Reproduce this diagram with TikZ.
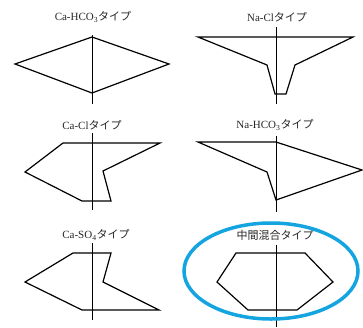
\documentclass[tikz,border=0pt]{standalone}
\usepackage{fontspec}
\setmainfont{Liberation Serif}
\newfontfamily\jp{Noto Sans CJK JP}
\definecolor{ringblue}{RGB}{20,165,225}
\begin{document}
\begin{tikzpicture}[x=1pt,y=-1pt,
  axisline/.style={line width=1pt,black},
  shapeline/.style={line width=1.2pt,black,line join=miter},
  lbl/.style={font=\fontsize{11}{12}\selectfont,inner sep=0pt,text=black!85}]
\useasboundingbox (0,0) rectangle (363,327);
% Panel 1: Ca-HCO3
\node[lbl] (l1) at (93,17) {Ca-HCO\textsubscript{3}{\jp タイプ}};
\draw[axisline] (92,35) -- (92,104);
\draw[shapeline] (92,37) -- (169,64) -- (92,93) -- (15,64) -- cycle;
% Panel 2: Na-Cl
\node[lbl] (l2) at (277,17) {Na-Cl{\jp タイプ}};
\draw[axisline] (276,27) -- (276,104);
\draw[shapeline] (198,37) -- (353,37) -- (295,65) -- (286,94) -- (275,94) -- (267,65) -- cycle;
% Panel 3: Ca-Cl
\node[lbl] (l3) at (92,125) {Ca-Cl{\jp タイプ}};
\draw[axisline] (92,133) -- (92,210);
\draw[shapeline] (63,143) -- (160,143) -- (103,171) -- (111,201) -- (82,201) -- (25,172) -- cycle;
% Panel 4: Na-HCO3
\node[lbl] (l4) at (275,125) {Na-HCO\textsubscript{3}{\jp タイプ}};
\draw[axisline] (276,136) -- (276,212);
\draw[shapeline] (198,142) -- (276,142) -- (362,170) -- (276,200) -- (267,172) -- cycle;
% Panel 5: Ca-SO4
\node[lbl] (l5) at (96,235) {Ca-SO\textsubscript{4}{\jp タイプ}};
\draw[axisline] (92,243) -- (92,320);
\draw[shapeline] (73,253) -- (111,253) -- (103,282) -- (159,310) -- (82,310) -- (25,282) -- cycle;
% Panel 6: intermediate mixed
\node[lbl] (l6) at (275,235) {\jp 中間混合タイプ};
\draw[axisline] (276,245) -- (276,327);
\draw[shapeline] (236,253) -- (305,253) -- (333,282) -- (297,310) -- (248,310) -- (217,282) -- cycle;
% highlight ring
\draw[ringblue,line width=3.5pt] (271,271) ellipse [x radius=87, y radius=48];
\end{tikzpicture}
\end{document}
